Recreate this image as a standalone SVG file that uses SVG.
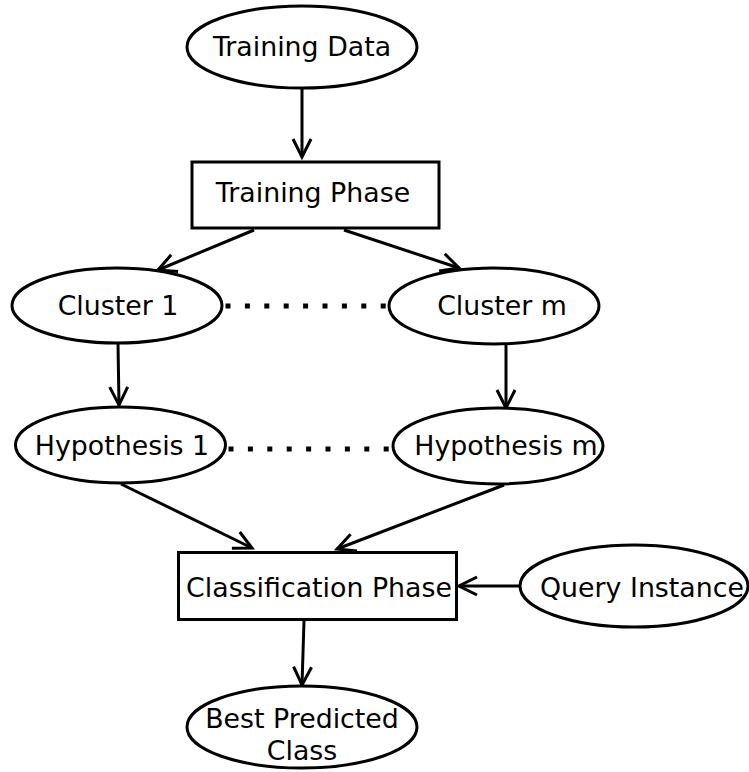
<svg xmlns="http://www.w3.org/2000/svg" width="749" height="772" viewBox="0 0 749 772">
<style>
.n{fill:#fff;stroke:#000;stroke-width:3}
.t{font-family:"DejaVu Sans",sans-serif;font-size:26.8px;fill:#000;text-anchor:middle}
.e{fill:none;stroke:#000;stroke-width:3;marker-end:url(#a)}
.d{fill:none;stroke:#000;stroke-width:5;stroke-dasharray:5 14.4}
</style>
<defs>
<marker id="a" markerUnits="userSpaceOnUse" markerWidth="22" markerHeight="22" refX="19" refY="10" orient="auto" viewBox="0 0 22 20">
<path d="M1,1 L19,10 L1,19" fill="none" stroke="#000" stroke-width="3"/>
</marker>
</defs>
<g id="connectors">
<line class="e" x1="302" y1="88" x2="302" y2="157"/>
<line class="e" x1="254" y1="230" x2="158" y2="270"/>
<line class="e" x1="344" y1="230" x2="459" y2="268"/>
<line class="e" x1="118" y1="344" x2="119" y2="405"/>
<line class="e" x1="506" y1="344" x2="506" y2="408"/>
<line class="e" x1="121" y1="484" x2="252" y2="548"/>
<line class="e" x1="504" y1="485" x2="337" y2="549"/>
<line class="e" x1="520" y1="586" x2="459" y2="586"/>
<line class="e" x1="304" y1="621" x2="302" y2="685"/>
<line class="d" x1="225.5" y1="306" x2="390" y2="306"/>
<line class="d" x1="228.5" y1="449" x2="393" y2="449"/>
</g>
<g id="training-data"><ellipse class="n" cx="302" cy="47" rx="115" ry="41"/><text class="t" x="302" y="56">Training Data</text></g>
<g id="training-phase"><rect class="n" x="192" y="162" width="247" height="66"/><text class="t" x="313" y="202">Training Phase</text></g>
<g id="cluster-1"><ellipse class="n" cx="117" cy="305.5" rx="105" ry="37.5"/><text class="t" x="118" y="315">Cluster 1</text></g>
<g id="cluster-m"><ellipse class="n" cx="494" cy="306" rx="105" ry="38"/><text class="t" x="502" y="315">Cluster m</text></g>
<g id="hypothesis-1"><ellipse class="n" cx="120.5" cy="445" rx="105" ry="38"/><text class="t" x="122" y="455">Hypothesis 1</text></g>
<g id="hypothesis-m"><ellipse class="n" cx="498" cy="446" rx="105" ry="38"/><text class="t" x="506" y="455">Hypothesis m</text></g>
<g id="classification-phase"><rect class="n" x="178.5" y="552.5" width="278" height="67"/><text class="t" x="319" y="597">Classification Phase</text></g>
<g id="query-instance"><ellipse class="n" cx="634" cy="586" rx="114" ry="41"/><text class="t" x="642" y="597">Query Instance</text></g>
<g id="best-predicted-class"><ellipse class="n" cx="302" cy="727" rx="115" ry="41"/><text class="t" x="302" y="728">Best Predicted</text><text class="t" x="302" y="760">Class</text></g>
</svg>
